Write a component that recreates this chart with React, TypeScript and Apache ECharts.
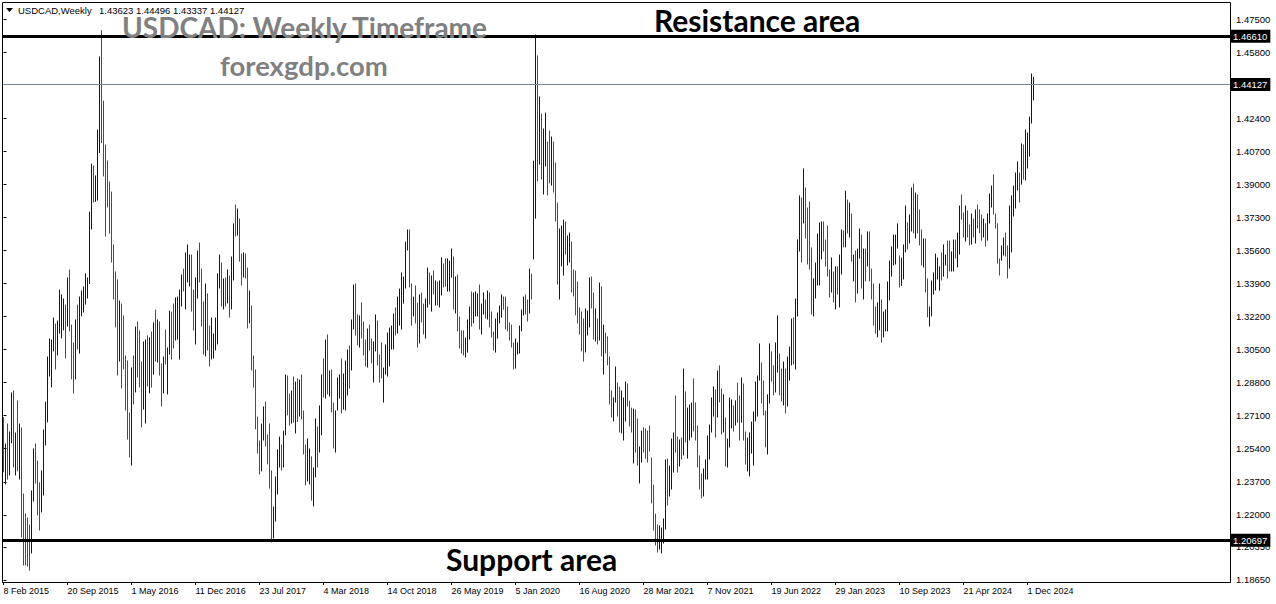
import React, { useEffect, useRef } from "react";
import * as echarts from "echarts";

// Weekly USDCAD bars, first bar = week of 8 Feb 2015 (index 0), one entry per week.
const highs = [
  1.2700, 1.2564, 1.2667, 1.2626, 1.2827, 1.2837, 1.2621, 1.2786, 1.2667, 1.2647,
  1.2307, 1.2204, 1.2184, 1.2148, 1.2323, 1.2539, 1.2564, 1.2477, 1.2364, 1.2426,
  1.2636, 1.2780, 1.3012, 1.3104, 1.3099, 1.3212, 1.3181, 1.3197, 1.3356, 1.3331,
  1.3310, 1.3279, 1.3418, 1.3459, 1.3176, 1.3084, 1.3202, 1.3279, 1.3320, 1.3351,
  1.3372, 1.3439, 1.3418, 1.3757, 1.4004, 1.3994, 1.3943, 1.4179, 1.4555, 1.4690,
  1.4328, 1.4102, 1.4020, 1.3912, 1.3860, 1.3588, 1.3449, 1.3408, 1.3300, 1.3284,
  1.3223, 1.3017, 1.2991, 1.2724, 1.2955, 1.3017, 1.3166, 1.3192, 1.3146, 1.2986,
  1.3089, 1.3099, 1.3120, 1.3110, 1.3140, 1.3187, 1.3253, 1.3202, 1.3192, 1.2976,
  1.3012, 1.3151, 1.3058, 1.3248, 1.3243, 1.3284, 1.3315, 1.3320, 1.3356, 1.3434,
  1.3464, 1.3547, 1.3588, 1.3536, 1.3536, 1.3356, 1.3418, 1.3557, 1.3598, 1.3464,
  1.3295, 1.3387, 1.3336, 1.3171, 1.3212, 1.3130, 1.3212, 1.3439, 1.3536, 1.3495,
  1.3413, 1.3418, 1.3459, 1.3428, 1.3526, 1.3696, 1.3793, 1.3773, 1.3721, 1.3541,
  1.3547, 1.3541, 1.3469, 1.3351, 1.3274, 1.3017, 1.2945, 1.2703, 1.2580, 1.2667,
  1.2755, 1.2780, 1.2611, 1.2667, 1.2426, 1.2240, 1.2395, 1.2534, 1.2600, 1.2559,
  1.2631, 1.2919, 1.2914, 1.2821, 1.2837, 1.2909, 1.2883, 1.2900, 1.2893, 1.2919,
  1.2734, 1.2559, 1.2590, 1.2539, 1.2498, 1.2441, 1.2693, 1.2652, 1.2760, 1.2919,
  1.3002, 1.3099, 1.3125, 1.2940, 1.2945, 1.2775, 1.2734, 1.2904, 1.2919, 1.3002,
  1.2924, 1.2991, 1.3048, 1.3068, 1.3202, 1.3382, 1.3387, 1.3228, 1.3223, 1.3290,
  1.3192, 1.3099, 1.3156, 1.3176, 1.3104, 1.3089, 1.3228, 1.3197, 1.3022, 1.3084,
  1.2955, 1.3074, 1.3135, 1.3161, 1.3171, 1.3233, 1.3264, 1.3320, 1.3361, 1.3444,
  1.3423, 1.3603, 1.3665, 1.3665, 1.3387, 1.3320, 1.3377, 1.3289, 1.3331, 1.3341,
  1.3284, 1.3310, 1.3469, 1.3444, 1.3428, 1.3454, 1.3403, 1.3397, 1.3403, 1.3521,
  1.3490, 1.3516, 1.3516, 1.3505, 1.3567, 1.3526, 1.3423, 1.3433, 1.3217, 1.3146,
  1.3146, 1.3109, 1.3202, 1.3269, 1.3346, 1.3341, 1.3346, 1.3336, 1.3382, 1.3284,
  1.3341, 1.3305, 1.3351, 1.3341, 1.3243, 1.3140, 1.3207, 1.3238, 1.3274, 1.3331,
  1.3320, 1.3320, 1.3269, 1.3187, 1.3176, 1.3084, 1.3104, 1.3084, 1.3171, 1.3253,
  1.3320, 1.3331, 1.3305, 1.3464, 1.3438, 1.4019, 1.4667, 1.4560, 1.4349, 1.4261,
  1.4184, 1.4266, 1.4117, 1.4174, 1.4143, 1.4117, 1.4009, 1.3804, 1.3670, 1.3685,
  1.3716, 1.3706, 1.3634, 1.3649, 1.3603, 1.3459, 1.3454, 1.3397, 1.3264, 1.3243,
  1.3207, 1.3259, 1.3248, 1.3418, 1.3423, 1.3341, 1.3259, 1.3207, 1.3392, 1.3372,
  1.3176, 1.3135, 1.3115, 1.3012, 1.2837, 1.2801, 1.2960, 1.2878, 1.2857, 1.2837,
  1.2801, 1.2883, 1.2873, 1.2785, 1.2749, 1.2744, 1.2739, 1.2693, 1.2549, 1.2631,
  1.2647, 1.2642, 1.2631, 1.2657, 1.2492, 1.2353, 1.2204, 1.2148, 1.2143, 1.2132,
  1.2179, 1.2482, 1.2487, 1.2451, 1.2590, 1.2621, 1.2811, 1.2600, 1.2585, 1.2595,
  1.2950, 1.2832, 1.2749, 1.2765, 1.2775, 1.2899, 1.2775, 1.2657, 1.2503, 1.2410,
  1.2436, 1.2482, 1.2605, 1.2662, 1.2801, 1.2858, 1.2842, 1.2940, 1.2966, 1.2847,
  1.2817, 1.2698, 1.2590, 1.2801, 1.2791, 1.2760, 1.2786, 1.2878, 1.2811, 1.2904,
  1.2873, 1.2626, 1.2595, 1.2621, 1.2677, 1.2729, 1.2883, 1.2914, 1.3079, 1.2981,
  1.2888, 1.2734, 1.2817, 1.3079, 1.3038, 1.2966, 1.3084, 1.3223, 1.3027, 1.2950,
  1.2986, 1.2950, 1.3012, 1.3063, 1.3207, 1.3212, 1.3310, 1.3614, 1.3840, 1.3829,
  1.3979, 1.3881, 1.3778, 1.3809, 1.3572, 1.3413, 1.3495, 1.3644, 1.3701, 1.3706,
  1.3706, 1.3613, 1.3685, 1.3459, 1.3521, 1.3449, 1.3475, 1.3475, 1.3536, 1.3665,
  1.3660, 1.3865, 1.3819, 1.3804, 1.3747, 1.3536, 1.3557, 1.3567, 1.3670, 1.3639,
  1.3567, 1.3567, 1.3655, 1.3655, 1.3464, 1.3387, 1.3269, 1.3290, 1.3387, 1.3305,
  1.3243, 1.3254, 1.3397, 1.3505, 1.3578, 1.3639, 1.3639, 1.3696, 1.3531, 1.3520,
  1.3588, 1.3788, 1.3701, 1.3742, 1.3881, 1.3901, 1.3855, 1.3845, 1.3768, 1.3665,
  1.3619, 1.3619, 1.3413, 1.3269, 1.3403, 1.3444, 1.3541, 1.3521, 1.3475, 1.3547,
  1.3588, 1.3536, 1.3608, 1.3608, 1.3552, 1.3613, 1.3613, 1.3649, 1.3788, 1.3845,
  1.3752, 1.3788, 1.3763, 1.3691, 1.3747, 1.3721, 1.3768, 1.3793, 1.3768, 1.3742,
  1.3721, 1.3696, 1.3747, 1.3850, 1.3891, 1.3948, 1.3747, 1.3696, 1.3516, 1.3583,
  1.3624, 1.3649, 1.3583, 1.3788, 1.3840, 1.3891, 1.3958, 1.4015, 1.3958, 1.4107,
  1.4102, 1.4179, 1.4164, 1.4246, 1.4467, 1.44496,
];

const lows = [
  1.2422, 1.2359, 1.2384, 1.2405, 1.2571, 1.2446, 1.2405, 1.2426, 1.2384, 1.2086,
  1.1942, 1.1942, 1.1937, 1.1916, 1.2004, 1.2271, 1.2364, 1.2199, 1.2122, 1.2215,
  1.2302, 1.2559, 1.2678, 1.2914, 1.2858, 1.3043, 1.2950, 1.3022, 1.3135, 1.3110,
  1.3151, 1.3007, 1.3171, 1.3146, 1.2899, 1.2827, 1.2899, 1.3053, 1.3032, 1.3223,
  1.3243, 1.3284, 1.3315, 1.3390, 1.3670, 1.3809, 1.3812, 1.3819, 1.4063, 1.4114,
  1.3943, 1.3634, 1.3783, 1.3649, 1.3500, 1.3310, 1.3166, 1.2919, 1.2991, 1.2852,
  1.2950, 1.2739, 1.2590, 1.2498, 1.2456, 1.2770, 1.2832, 1.2909, 1.2857, 1.2652,
  1.2744, 1.2672, 1.2863, 1.2827, 1.2857, 1.2924, 1.2991, 1.2986, 1.2919, 1.2760,
  1.2827, 1.2976, 1.2822, 1.3027, 1.3001, 1.3058, 1.3099, 1.3104, 1.3001, 1.3274,
  1.3351, 1.3259, 1.3398, 1.3377, 1.3248, 1.3151, 1.3079, 1.3315, 1.3398, 1.3171,
  1.3027, 1.3017, 1.3048, 1.2966, 1.3002, 1.3007, 1.3048, 1.3079, 1.3367, 1.3274,
  1.3259, 1.3274, 1.3290, 1.3217, 1.3259, 1.3408, 1.3634, 1.3639, 1.3505, 1.3382,
  1.3423, 1.3418, 1.3161, 1.3187, 1.2945, 1.2857, 1.2642, 1.2518, 1.2410, 1.2426,
  1.2585, 1.2554, 1.2462, 1.2338, 1.2061, 1.2081, 1.2168, 1.2307, 1.2446, 1.2431,
  1.2446, 1.2611, 1.2714, 1.2662, 1.2672, 1.2677, 1.2621, 1.2680, 1.2708, 1.2693,
  1.2513, 1.2354, 1.2374, 1.2359, 1.2276, 1.2246, 1.2395, 1.2446, 1.2523, 1.2611,
  1.2806, 1.2801, 1.2822, 1.2811, 1.2729, 1.2544, 1.2523, 1.2739, 1.2801, 1.2724,
  1.2744, 1.2739, 1.2816, 1.2852, 1.2945, 1.3156, 1.3125, 1.3074, 1.3063, 1.3110,
  1.3022, 1.2966, 1.2960, 1.3048, 1.2981, 1.2883, 1.3043, 1.2971, 1.2883, 1.2904,
  1.2780, 1.2924, 1.2914, 1.2966, 1.3053, 1.3053, 1.3125, 1.3135, 1.3176, 1.3156,
  1.3289, 1.3367, 1.3562, 1.3372, 1.3176, 1.3223, 1.3187, 1.3063, 1.3084, 1.3192,
  1.3130, 1.3109, 1.3269, 1.3284, 1.3248, 1.3336, 1.3279, 1.3279, 1.3269, 1.3331,
  1.3372, 1.3377, 1.3351, 1.3351, 1.3423, 1.3258, 1.3238, 1.3146, 1.3058, 1.3032,
  1.3022, 1.3012, 1.3037, 1.3104, 1.3171, 1.3187, 1.3223, 1.3223, 1.3156, 1.3130,
  1.3233, 1.3212, 1.3207, 1.3166, 1.3115, 1.3048, 1.3037, 1.3109, 1.3187, 1.3217,
  1.3258, 1.3156, 1.3146, 1.3099, 1.3063, 1.2950, 1.2955, 1.3027, 1.3032, 1.3146,
  1.3228, 1.3233, 1.3197, 1.3238, 1.3310, 1.3516, 1.3726, 1.3917, 1.4004, 1.3927,
  1.3850, 1.3994, 1.3845, 1.3907, 1.3896, 1.3860, 1.3711, 1.3387, 1.3310, 1.3480,
  1.3433, 1.3541, 1.3485, 1.3500, 1.3346, 1.3326, 1.3228, 1.3187, 1.3130, 1.3043,
  1.2991, 1.3038, 1.3125, 1.3166, 1.3264, 1.3104, 1.3094, 1.3079, 1.3099, 1.3017,
  1.2924, 1.3032, 1.2971, 1.2770, 1.2703, 1.2683, 1.2780, 1.2708, 1.2626, 1.2621,
  1.2585, 1.2683, 1.2760, 1.2657, 1.2626, 1.2467, 1.2523, 1.2456, 1.2364, 1.2472,
  1.2523, 1.2492, 1.2472, 1.2528, 1.2261, 1.2122, 1.2045, 1.2009, 1.2024, 1.2004,
  1.2055, 1.2127, 1.2251, 1.2297, 1.2333, 1.2420, 1.2523, 1.2420, 1.2451, 1.2487,
  1.2508, 1.2575, 1.2492, 1.2585, 1.2600, 1.2631, 1.2585, 1.2446, 1.2333, 1.2287,
  1.2297, 1.2384, 1.2384, 1.2487, 1.2626, 1.2708, 1.2600, 1.2703, 1.2781, 1.2616,
  1.2626, 1.2451, 1.2446, 1.2549, 1.2647, 1.2631, 1.2662, 1.2677, 1.2585, 1.2677,
  1.2585, 1.2461, 1.2426, 1.2400, 1.2518, 1.2456, 1.2683, 1.2708, 1.2893, 1.2775,
  1.2714, 1.2549, 1.2513, 1.2775, 1.2888, 1.2817, 1.2832, 1.2935, 1.2817, 1.2786,
  1.2765, 1.2724, 1.2760, 1.2893, 1.2971, 1.2976, 1.2950, 1.3223, 1.3557, 1.3500,
  1.3701, 1.3624, 1.3490, 1.3464, 1.3233, 1.3223, 1.3315, 1.3382, 1.3382, 1.3516,
  1.3557, 1.3480, 1.3428, 1.3320, 1.3346, 1.3295, 1.3259, 1.3336, 1.3269, 1.3439,
  1.3578, 1.3578, 1.3650, 1.3629, 1.3505, 1.3403, 1.3295, 1.3341, 1.3521, 1.3367,
  1.3310, 1.3403, 1.3480, 1.3403, 1.3310, 1.3176, 1.3135, 1.3115, 1.3151, 1.3089,
  1.3115, 1.3146, 1.3146, 1.3305, 1.3428, 1.3485, 1.3490, 1.3572, 1.3372, 1.3380,
  1.3413, 1.3552, 1.3567, 1.3598, 1.3660, 1.3650, 1.3624, 1.3650, 1.3588, 1.3485,
  1.3475, 1.3346, 1.3218, 1.3171, 1.3223, 1.3336, 1.3356, 1.3413, 1.3356, 1.3408,
  1.3428, 1.3485, 1.3418, 1.3454, 1.3454, 1.3454, 1.3521, 1.3475, 1.3541, 1.3721,
  1.3629, 1.3608, 1.3629, 1.3588, 1.3593, 1.3629, 1.3598, 1.3675, 1.3650, 1.3613,
  1.3629, 1.3583, 1.3613, 1.3701, 1.3783, 1.3747, 1.3675, 1.3495, 1.3433, 1.3510,
  1.3536, 1.3531, 1.3418, 1.3469, 1.3552, 1.3737, 1.3778, 1.3871, 1.3809, 1.3901,
  1.3927, 1.3922, 1.3984, 1.4045, 1.4215, 1.43337,
];

// u = bullish week (close above open), d = bearish week
const barDirections =
  "duduududud" + "dddduudddu" + "uuuuuuduuu" + "ududdduduu" + "uuuuuduuud" +
  "ddddddddud" + "ddddududdd" + "uududududd" + "uduudduuuu" + "duuudduudd" +
  "dudduuuuud" + "ududuududd" + "uddudddddu" + "udddduuuud" + "uuddududud" +
  "dduuduuduu" + "dududduuud" + "uuuduuddud" + "ddudduuddd" + "uuuuuuduuu" +
  "uuudduddud" + "duudududuu" + "dduuududdd" + "duuuduuudu" + "ududdduuuu" +
  "dddddduuuu" + "udduduudud" + "uudduddduu" + "uduudddddd" + "duuuddudud" +
  "udddduuddu" + "uudddudduu" + "dddddddduu" + "uuduuuddud" + "uduuuddddd" +
  "uuuuuududd" + "uduuududdu" + "dduuuuuuud" + "dduudduudd" + "uduuuduuud" +
  "udddduuuuu" + "ddddududuu" + "dudududuud" + "ududddduud" + "uuuuuuuudu" +
  "uuduududdd" + "udduuuuuud" + "uudduuduud" + "duddududdd" + "uduuuddddu" +
  "udduuuuudu" + "duuuuu";

const dateLabels = [
  "8 Feb 2015", "20 Sep 2015", "1 May 2016", "11 Dec 2016", "23 Jul 2017",
  "4 Mar 2018", "14 Oct 2018", "26 May 2019", "5 Jan 2020", "16 Aug 2020",
  "28 Mar 2021", "7 Nov 2021", "19 Jun 2022", "29 Jan 2023", "10 Sep 2023",
  "21 Apr 2024", "1 Dec 2024",
];
const dateLabelBars = [0, 32, 64, 96, 128, 160, 192, 224, 256, 288, 320, 352, 384, 416, 448, 480, 512];

const priceTicks = [
  1.1865, 1.2035, 1.22, 1.237, 1.254, 1.271, 1.288, 1.305, 1.322,
  1.339, 1.356, 1.373, 1.39, 1.407, 1.424, 1.458, 1.475,
];

const resistanceLevel = 1.4661;
const supportLevel = 1.20697;
const lastPrice = 1.44127;
const lastBarOHLC = ["1.43623", "1.44496", "1.43337", "1.44127"];

const UP_COLOR = "#0000cd";
const DOWN_COLOR = "#ff0000";
const SMALL_FONT = "'Liberation Sans', Arial, sans-serif";
const BIG_FONT = "Lato, 'Open Sans', sans-serif";

export default function App() {
  const ref = useRef<HTMLDivElement>(null);

  useEffect(() => {
    document.body.style.margin = "0";
    if (!ref.current) return;
    const chart = echarts.init(ref.current, undefined, { renderer: "svg" });

    const data = highs.map((h, i) => [i, lows[i], h, barDirections[i] === "u" ? 1 : 0]);

    const levelLabel = {
      show: true,
      position: "end",
      distance: 1,
      formatter: (p: any) => Number(p.value).toFixed(5),
      backgroundColor: "#000",
      color: "#fff",
      fontFamily: SMALL_FONT,
      fontSize: 9.5,
      padding: [2, 3, 1, 2],
    };

    const option: any = {
      animation: false,
      backgroundColor: "#fff",
      grid: { left: 2, right: 46, top: 2, bottom: 22, containLabel: false },
      xAxis: {
        type: "value",
        min: -0.75,
        max: 613.25,
        splitLine: { show: false },
        axisLine: { show: false },
        axisTick: {
          show: true,
          customValues: dateLabelBars,
          length: 3,
          lineStyle: { color: "#000" },
        },
        axisLabel: {
          customValues: dateLabelBars,
          formatter: (v: number) => dateLabels[dateLabelBars.indexOf(Math.round(v))] || "",
          align: "left",
          margin: 4,
          color: "#000",
          fontFamily: SMALL_FONT,
          fontSize: 9,
        },
      },
      yAxis: {
        type: "value",
        position: "right",
        min: 1.185465,
        max: 1.483743,
        splitLine: { show: false },
        axisLine: { show: false },
        axisTick: {
          show: true,
          customValues: priceTicks,
          length: 3,
          lineStyle: { color: "#000" },
        },
        axisLabel: {
          customValues: priceTicks,
          formatter: (v: number) => v.toFixed(5),
          margin: 6,
          color: "#000",
          fontFamily: SMALL_FONT,
          fontSize: 9.5,
        },
      },
      series: [
        {
          type: "custom",
          z: 3,
          data,
          encode: { x: 0, y: [1, 2] },
          renderItem: (params: any, api: any) => {
            const i = api.value(0);
            const lo = api.coord([i, api.value(1)]);
            const hi = api.coord([i, api.value(2)]);
            const up = api.value(3) > 0;
            return {
              type: "line",
              shape: { x1: lo[0], y1: lo[1] + 0.5, x2: hi[0], y2: hi[1] - 0.5 },
              style: { stroke: up ? UP_COLOR : DOWN_COLOR, lineWidth: 1 },
            };
          },
          markLine: {
            silent: true,
            symbol: ["none", "none"],
            precision: 5,
            z: 10,
            data: [
              { yAxis: resistanceLevel, lineStyle: { color: "#000", width: 3, type: "solid" }, label: levelLabel },
              { yAxis: supportLevel, lineStyle: { color: "#000", width: 3, type: "solid" }, label: levelLabel },
              { yAxis: lastPrice, lineStyle: { color: "#778899", width: 1, type: "solid" }, label: levelLabel },
            ],
          },
        },
      ],
      graphic: [
        {
          type: "rect",
          silent: true,
          z: 20,
          shape: { x: 2.5, y: 2.5, width: 1228, height: 580 },
          style: { fill: "none", stroke: "#000", lineWidth: 1 },
        },
        {
          type: "polygon",
          silent: true,
          z: 20,
          shape: { points: [[6, 8], [13, 8], [9.5, 12]] },
          style: { fill: "#000" },
        },
        {
          type: "text",
          silent: true,
          z: 20,
          x: 18,
          y: 10,
          style: { text: "USDCAD,Weekly", fill: "#000", font: `9.5px ${SMALL_FONT}`, verticalAlign: "middle" },
        },
        {
          type: "text",
          silent: true,
          z: 20,
          x: 99,
          y: 10,
          style: { text: lastBarOHLC.join(" "), fill: "#000", font: `9.5px ${SMALL_FONT}`, verticalAlign: "middle" },
        },
        {
          type: "text",
          silent: true,
          z: 20,
          x: 122,
          y: 27,
          style: { text: "USDCAD: Weekly Timeframe", fill: "#808080", font: `bold 28px ${BIG_FONT}`, verticalAlign: "middle" },
        },
        {
          type: "text",
          silent: true,
          z: 20,
          x: 220,
          y: 65,
          style: { text: "forexgdp.com", fill: "#808080", font: `bold 27.5px ${BIG_FONT}`, verticalAlign: "middle" },
        },
        {
          type: "text",
          silent: true,
          z: 20,
          x: 654,
          y: 20,
          style: { text: "Resistance area", fill: "#000", font: `bold 30px ${BIG_FONT}`, verticalAlign: "middle" },
        },
        {
          type: "text",
          silent: true,
          z: 20,
          x: 446,
          y: 559,
          style: { text: "Support area", fill: "#000", font: `bold 30px ${BIG_FONT}`, verticalAlign: "middle" },
        },
      ],
    };

    chart.setOption(option);
    return () => chart.dispose();
  }, []);

  return <div ref={ref} style={{ width: 1276, height: 604 }} />;
}
